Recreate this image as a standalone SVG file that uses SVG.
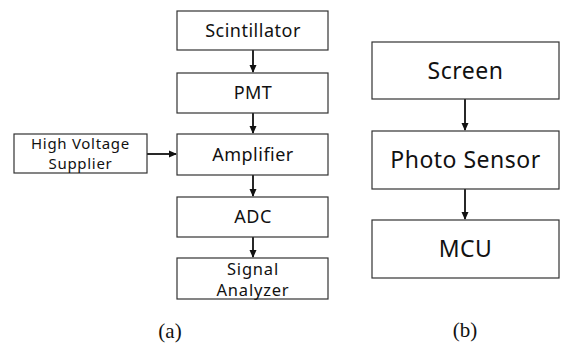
<svg xmlns="http://www.w3.org/2000/svg" width="561" height="345" viewBox="0 0 561 345">
<style>
.box{fill:#fff;stroke:#333;stroke-width:1.2}
.t{font-family:"Noto Sans","DejaVu Sans",sans-serif;fill:#111;text-anchor:middle}
.s{font-size:18px;letter-spacing:0.5px}
.s2{font-size:16.5px;letter-spacing:0.8px}
.m{font-size:15px;letter-spacing:0.7px}
.l{font-size:23px;letter-spacing:0.5px}
.cap{font-family:"Liberation Serif",serif;font-size:21px;fill:#111;text-anchor:middle}
.c{stroke:#111;stroke-width:1.8;fill:none}
</style>
<defs>
<marker id="ah" markerWidth="8" markerHeight="8" refX="7" refY="4" orient="auto" markerUnits="userSpaceOnUse">
<path d="M0,0.5 L8,4 L0,7.5 Z" fill="#111"/>
</marker>
</defs>
<rect width="561" height="345" fill="#fff"/>
<g id="connectors">
<line class="c" x1="253" y1="50" x2="253" y2="72" marker-end="url(#ah)"/>
<line class="c" x1="253" y1="113" x2="253" y2="133" marker-end="url(#ah)"/>
<line class="c" x1="253" y1="175" x2="253" y2="196" marker-end="url(#ah)"/>
<line class="c" x1="253" y1="237" x2="253" y2="257" marker-end="url(#ah)"/>
<line class="c" x1="147" y1="154" x2="176" y2="154" marker-end="url(#ah)"/>
<line class="c" x1="465" y1="99" x2="465" y2="130" marker-end="url(#ah)"/>
<line class="c" x1="465" y1="189" x2="465" y2="219" marker-end="url(#ah)"/>
</g>
<g id="scintillator"><rect class="box" x="177" y="11" width="151" height="39"/><text class="t s" x="253" y="37">Scintillator</text></g>
<g id="pmt"><rect class="box" x="177" y="73" width="151" height="40"/><text class="t s" x="253" y="99">PMT</text></g>
<g id="amplifier"><rect class="box" x="177" y="134" width="151" height="41"/><text class="t s" x="253" y="161">Amplifier</text></g>
<g id="adc"><rect class="box" x="177" y="197" width="151" height="40"/><text class="t s" x="253" y="223">ADC</text></g>
<g id="analyzer"><rect class="box" x="177" y="258" width="151" height="41"/><text class="t s2" x="253" y="275">Signal</text><text class="t s2" x="253" y="296">Analyzer</text></g>
<g id="hv"><rect class="box" x="14" y="134" width="133" height="39"/><text class="t m" x="80.5" y="149">High Voltage</text><text class="t m" x="80.5" y="169">Supplier</text></g>
<g id="screen"><rect class="box" x="372" y="42" width="187" height="57"/><text class="t l" x="465.5" y="79">Screen</text></g>
<g id="photo"><rect class="box" x="372" y="131" width="187" height="58"/><text class="t l" x="465.5" y="168">Photo Sensor</text></g>
<g id="mcu"><rect class="box" x="372" y="220" width="187" height="58"/><text class="t l" x="465.5" y="257">MCU</text></g>
<text class="cap" x="170" y="338">(a)</text>
<text class="cap" x="465" y="337">(b)</text>
</svg>
